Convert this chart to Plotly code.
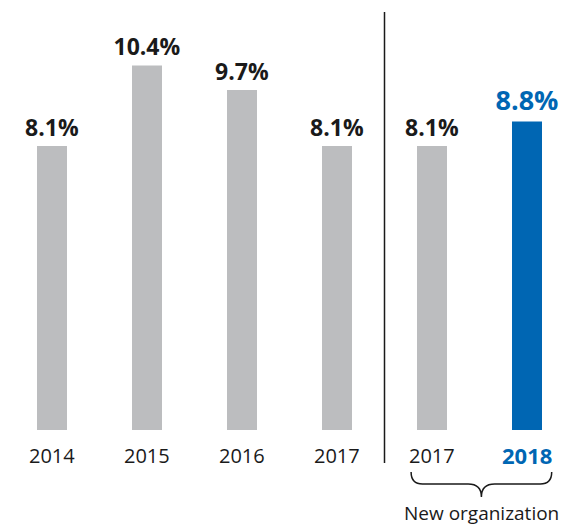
import plotly.graph_objects as go

# Data
years = ["2014", "2015", "2016", "2017", "2017", "2018"]
values = [8.1, 10.4, 9.7, 8.1, 8.1, 8.8]
group_label = "New organization"

GRAY = "#bcbdbf"
BLUE = "#0066b3"
INK = "#1a1a1a"
FONT = "Open Sans, Noto Sans, sans-serif"

x_pos = list(range(len(years)))
bar_colors = [GRAY] * 5 + [BLUE]
label_colors = [INK] * 5 + [BLUE]
label_sizes = [23] * 5 + [27]

# Pixel geometry of the canvas
W, H = 570, 527
base_px = 430.0        # vertical pixel of the zero line
unit_px = 35.06        # pixels per percentage point
first_px = 52.0        # horizontal pixel of the first bar
step_px = 95.0         # spacing between bars

x_range = [-first_px / step_px, (W - first_px) / step_px]
y_range = [-(H - base_px) / unit_px, base_px / unit_px]

fig = go.Figure()
fig.add_trace(go.Bar(
    x=x_pos,
    y=values,
    width=30 / step_px,
    marker=dict(color=bar_colors, line=dict(width=0)),
    text=[f"<b>{v:.1f}%</b>" for v in values],
    textposition="outside",
    constraintext="none",
    textfont=dict(family=FONT, size=label_sizes, color=label_colors),
    cliponaxis=False,
    hoverinfo="skip",
))

# Year labels under the bars
tick_y = -(455 - base_px) / unit_px
for i, yr in enumerate(years):
    last = i == len(years) - 1
    fig.add_annotation(
        x=i, y=tick_y, xref="x", yref="y",
        text=f"<b>{yr}</b>" if last else yr,
        showarrow=False,
        font=dict(family=FONT, size=22 if last else 20, color=BLUE if last else INK),
        xanchor="center", yanchor="middle",
    )

# Divider between old and new organization
fig.add_shape(
    type="line", xref="x", yref="y",
    x0=3.5, x1=3.5,
    y0=-(463 - base_px) / unit_px, y1=(base_px - 12) / unit_px,
    line=dict(color=INK, width=1.5),
)

# Curly brace grouping the last two bars
bx0, bx1 = 3.78, 5.26
bxc = (bx0 + bx1) / 2
by_top = -(472 - base_px) / unit_px
by_mid = -(484 - base_px) / unit_px
by_tip = -(497 - base_px) / unit_px
de, dt = 0.12, 0.14
brace = (
    f"M {bx0},{by_top} Q {bx0},{by_mid} {bx0 + de},{by_mid} "
    f"L {bxc - dt},{by_mid} Q {bxc},{by_mid} {bxc},{by_tip} "
    f"Q {bxc},{by_mid} {bxc + dt},{by_mid} "
    f"L {bx1 - de},{by_mid} Q {bx1},{by_mid} {bx1},{by_top}"
)
fig.add_shape(type="path", xref="x", yref="y", path=brace,
              line=dict(color=INK, width=1.5))

fig.add_annotation(
    x=bxc, y=-(513 - base_px) / unit_px, xref="x", yref="y",
    text=group_label, showarrow=False,
    font=dict(family=FONT, size=19, color=INK),
    xanchor="center", yanchor="middle",
)

fig.update_layout(
    width=W, height=H,
    margin=dict(l=0, r=0, t=0, b=0),
    paper_bgcolor="white", plot_bgcolor="white",
    showlegend=False,
    xaxis=dict(range=x_range, visible=False, fixedrange=True),
    yaxis=dict(range=y_range, visible=False, fixedrange=True),
)

fig.write_html("out.html")
